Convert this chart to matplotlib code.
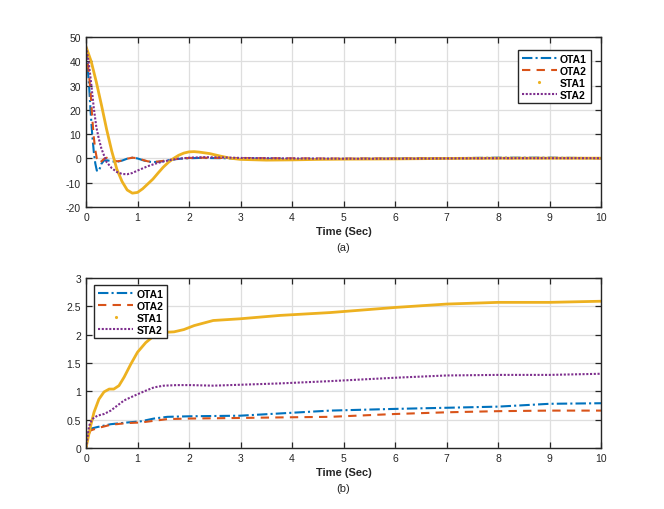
import matplotlib
matplotlib.use("Agg")
import matplotlib.pyplot as plt
from matplotlib.lines import Line2D

plt.rcParams['font.family'] = ['Liberation Sans Narrow', 'Liberation Sans', 'DejaVu Sans']
plt.rcParams['axes.unicode_minus'] = False

# ---- data (a): error / response vs time ----
t_ota1_a = [0, 0.03, 0.06, 0.09, 0.12, 0.15, 0.18, 0.21, 0.24, 0.27, 0.3, 0.35, 0.42, 0.5, 0.6, 0.7, 0.8, 0.9,
            1.0, 1.1, 1.2, 1.3, 1.4, 1.5, 1.7, 1.9, 2.2, 2.6, 3, 4, 5, 6, 7, 8, 9, 10]
ota1_a = [45, 38, 30, 19, 10, 3, -2, -5, -5.3, -4, -2.2, -0.8, -0.8, -1.2, -1.4, -0.9, -0.1, 0.3,
          0, -0.7, -1.3, -1.5, -1.4, -1.1, -0.4, 0, 0.2, 0.1, 0, -0.2, -0.2, -0.1, 0.1, 0.3, 0.3, 0.1]

t_ota2_a = [0, 0.03, 0.06, 0.09, 0.12, 0.15, 0.18, 0.21, 0.25, 0.3, 0.35, 0.4, 0.5, 0.6, 0.7, 0.8, 0.9,
            1.0, 1.1, 1.2, 1.3, 1.4, 1.5, 1.7, 1.9, 2.2, 2.6, 3, 4, 5, 6, 7, 8, 9, 10]
ota2_a = [45, 40, 34, 27, 17, 9, 3.5, 0, -1.8, -1.2, -0.2, 0.3, -0.5, -1.2, -0.9, -0.1, 0.3,
          0.1, -0.6, -1.2, -1.4, -1.3, -1.0, -0.3, 0.1, 0.3, 0.2, 0.1, 0, -0.1, 0, 0.1, 0.1, 0.2, 0.1]

t_sta1_a = [0, 0.1, 0.2, 0.3, 0.4, 0.5, 0.6, 0.7, 0.8, 0.9, 1.0, 1.1, 1.2, 1.3, 1.4, 1.5, 1.6, 1.7, 1.8,
            1.9, 2.0, 2.1, 2.2, 2.4, 2.6, 2.8, 3.0, 3.5, 4.0, 4.5, 5, 6, 7, 8, 9, 10]
sta1_a = [46, 40, 31.5, 22, 12, 3, -4.5, -9.5, -13, -14.3, -14, -12.5, -10.5, -8.5, -6, -3.6, -1.6, 0, 1.3,
          2.2, 2.7, 2.8, 2.6, 2.0, 1.0, 0.1, -0.4, -0.7, -0.6, -0.4, -0.3, -0.2, 0, 0.1, 0.1, 0.1]

t_sta2_a = [0, 0.05, 0.1, 0.15, 0.2, 0.25, 0.3, 0.4, 0.5, 0.6, 0.7, 0.8, 0.9, 1.0, 1.2, 1.4, 1.6, 1.8,
            2.0, 2.3, 2.7, 3.0, 4, 5, 6, 7, 8, 9, 10]
sta2_a = [46, 40, 31, 21, 13, 8, 4, -1.5, -4, -5.6, -6.4, -6.5, -6, -5, -3.2, -1.8, -0.8, -0.1,
          0.3, 0.5, 0.4, 0.2, 0, -0.1, -0.1, 0, 0.1, 0.1, 0.1]

# ---- data (b) ----
t_ota1_b = [0, 0.03, 0.09, 0.22, 0.48, 0.8, 1.06, 1.32, 1.58, 2.03, 2.99, 3.77, 4.74, 6, 7, 8, 9, 10]
ota1_b = [0, 0.22, 0.34, 0.37, 0.42, 0.45, 0.47, 0.52, 0.55, 0.56, 0.57, 0.61, 0.66, 0.69, 0.71, 0.73, 0.78, 0.79]

t_ota2_b = [0, 0.03, 0.09, 0.22, 0.48, 0.8, 1.06, 1.32, 1.58, 2.03, 2.99, 3.77, 4.74, 6, 7, 8, 9, 10]
ota2_b = [0, 0.2, 0.31, 0.35, 0.41, 0.44, 0.45, 0.48, 0.51, 0.52, 0.53, 0.54, 0.55, 0.6, 0.63, 0.65, 0.66, 0.66]

t_sta1_b = [0, 0.09, 0.155, 0.25, 0.35, 0.45, 0.54, 0.64, 0.74, 0.87, 1.0, 1.16, 1.32, 1.51, 1.71, 1.9,
            2.1, 2.47, 2.99, 3.77, 4.74, 6, 7, 8, 9, 10]
sta1_b = [0, 0.39, 0.63, 0.86, 0.99, 1.04, 1.04, 1.1, 1.25, 1.48, 1.69, 1.86, 1.98, 2.04, 2.05, 2.09,
          2.16, 2.25, 2.28, 2.34, 2.39, 2.48, 2.54, 2.57, 2.57, 2.59]

t_sta2_b = [0, 0.06, 0.12, 0.22, 0.35, 0.48, 0.61, 0.74, 0.93, 1.13, 1.32, 1.51, 1.77, 2.03, 2.47,
            3.77, 4.74, 6, 7, 8, 9, 10]
sta2_b = [0, 0.39, 0.51, 0.57, 0.6, 0.66, 0.75, 0.84, 0.92, 1.0, 1.07, 1.1, 1.11, 1.11, 1.1,
          1.14, 1.18, 1.24, 1.28, 1.29, 1.29, 1.31]

names = ["OTA1", "OTA2", "STA1", "STA2"]
colors = ["#0072BD", "#D95319", "#EDB120", "#7E2F8E"]
styles = [(0, (5, 1.5, 1, 1.5)), (0, (4, 3)), "-", (0, (1, 0.8))]
xticks = list(range(0, 11))

fig = plt.figure(figsize=(6.64, 5.10), dpi=100)
ax1 = fig.add_axes([86 / 664, 1 - 208 / 510, 515 / 664, 170 / 510])
ax2 = fig.add_axes([86 / 664, 1 - 449 / 510, 515 / 664, 170 / 510])

series_a = [(t_ota1_a, ota1_a), (t_ota2_a, ota2_a), (t_sta1_a, sta1_a), (t_sta2_a, sta2_a)]
series_b = [(t_ota1_b, ota1_b), (t_ota2_b, ota2_b), (t_sta1_b, sta1_b), (t_sta2_b, sta2_b)]

for ax, series in [(ax1, series_a), (ax2, series_b)]:
    for (t, y), c, ls in zip(series, colors, styles):
        lw = 2.0 if ls == "-" else 1.5
        ax.plot(t, y, color=c, linestyle=ls, linewidth=lw)
    ax.set_xlim(0, 10)
    ax.set_xticks(xticks)
    ax.grid(True, color="#dedede", linewidth=0.9)
    ax.set_axisbelow(True)
    ax.tick_params(direction="in", length=4, width=0.9, top=True, right=True,
                   labelsize=7.5, colors="#262626", pad=3.5)
    for s in ax.spines.values():
        s.set_color("#262626")
        s.set_linewidth(1.0)

ax1.set_ylim(-20, 50)
ax1.set_yticks(range(-20, 51, 10))
ax2.set_ylim(0, 3)
ax2.set_yticks([0, 0.5, 1, 1.5, 2, 2.5, 3])
ax2.set_yticklabels(["0", "0.5", "1", "1.5", "2", "2.5", "3"])

# legend: STA1 was drawn with '.' markers, so its key is a single dot
handles = [
    Line2D([], [], color=colors[0], linestyle=styles[0], linewidth=1.5),
    Line2D([], [], color=colors[1], linestyle=styles[1], linewidth=1.5),
    Line2D([], [], color=colors[2], linestyle="none", marker=".", markersize=2.5),
    Line2D([], [], color=colors[3], linestyle=styles[3], linewidth=1.5),
]
leg_kw = dict(prop={"weight": "bold", "size": 7.5}, handlelength=3.4, handletextpad=0.3,
              labelspacing=0.2, borderpad=0.35, fancybox=False, framealpha=1,
              edgecolor="#262626")
l1 = ax1.legend(handles, names, loc="upper right", bbox_to_anchor=(0.99, 0.955), **leg_kw)
l2 = ax2.legend(handles, names, loc="upper left", bbox_to_anchor=(0.006, 0.99), **leg_kw)
for leg in (l1, l2):
    leg.get_frame().set_linewidth(1.0)

cx = (86 + 601) / 2 / 664
fig.text(cx, 1 - 232 / 510, "Time (Sec)", ha="center", va="center", fontsize=8, fontweight="bold",
         color="#262626")
fig.text(cx, 1 - 248 / 510, "(a)", ha="center", va="center", fontsize=8, color="#262626")
fig.text(cx, 1 - 473 / 510, "Time (Sec)", ha="center", va="center", fontsize=8, fontweight="bold",
         color="#262626")
fig.text(cx, 1 - 489 / 510, "(b)", ha="center", va="center", fontsize=8, color="#262626")

fig.savefig("out.png", dpi=100)
